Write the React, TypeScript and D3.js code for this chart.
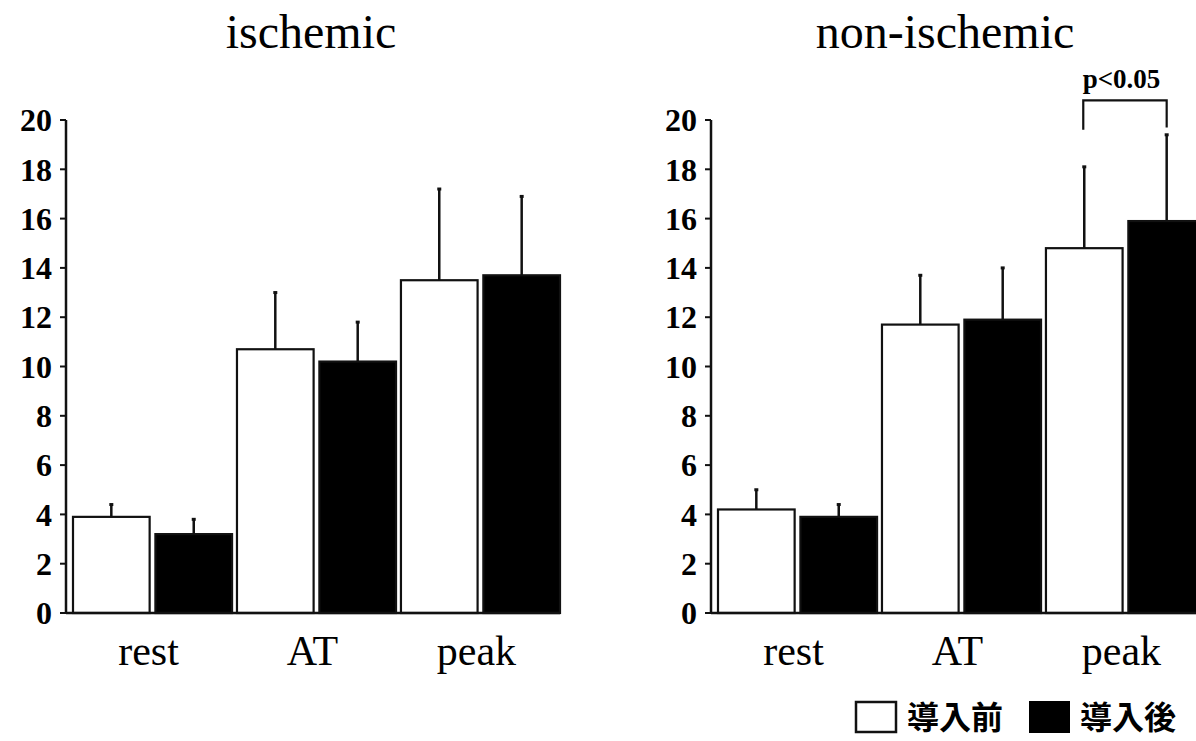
import * as d3 from 'd3';

const categories = ['rest', 'AT', 'peak'];
const seriesNames = ['導入前', '導入後'];
const yTicks = [0, 2, 4, 6, 8, 10, 12, 14, 16, 18, 20];

// ischemic
const ischBefore = [3.9, 10.7, 13.5];
const ischBeforeErr = [4.4, 13.0, 17.2];
const ischAfter = [3.2, 10.2, 13.7];
const ischAfterErr = [3.8, 11.8, 16.9];

// non-ischemic
const nonBefore = [4.2, 11.7, 14.8];
const nonBeforeErr = [5.0, 13.7, 18.1];
const nonAfter = [3.9, 11.9, 15.9];
const nonAfterErr = [4.4, 14.0, 19.4];

const W = 1196;
const H = 741;
const SERIF = '"Liberation Serif", "DejaVu Serif", serif';

const y = d3.scaleLinear().domain([0, 20]).range([613, 120]);

type PanelProps = {
  title: string;
  axisX: number;
  x0Range: [number, number];
  before: number[];
  beforeErr: number[];
  after: number[];
  afterErr: number[];
  titleX: number;
  sig?: boolean;
};

function Panel({ title, axisX, x0Range, before, beforeErr, after, afterErr, titleX, sig }: PanelProps) {
  const x0 = d3.scaleBand<string>().domain(categories).range(x0Range).paddingInner(0.03);
  const x1 = d3.scaleBand<string>().domain(seriesNames).range([0, x0.bandwidth()]).paddingInner(0.07);

  const rows = categories.flatMap((c, i) => [
    { c, s: seriesNames[0], v: before[i], e: beforeErr[i], fill: '#fff' },
    { c, s: seriesNames[1], v: after[i], e: afterErr[i], fill: '#000' },
  ]);

  const peakX = x0('peak')!;
  const bx1 = peakX + x1(seriesNames[0])! + x1.bandwidth() / 2;
  const bx2 = peakX + x1(seriesNames[1])! + x1.bandwidth() / 2;

  return (
    <g>
      <text x={titleX} y={48} textAnchor="middle" fontFamily={SERIF} fontSize={48}>{title}</text>

      {rows.map((d, i) => {
        const bx = x0(d.c)! + x1(d.s)!;
        const cx = bx + x1.bandwidth() / 2;
        return (
          <g key={i}>
            <line x1={cx} x2={cx} y1={y(d.v)} y2={y(d.e)} stroke="#111" strokeWidth={2.5} />
            <line x1={cx - 2} x2={cx + 2} y1={y(d.e)} y2={y(d.e)} stroke="#111" strokeWidth={3} />
            <rect x={bx} y={y(d.v)} width={x1.bandwidth()} height={y(0) - y(d.v)}
              fill={d.fill} stroke="#111" strokeWidth={2.2} />
          </g>
        );
      })}

      {/* axes */}
      <line x1={axisX} x2={axisX} y1={y(20)} y2={y(0)} stroke="#111" strokeWidth={2.5} />
      <line x1={axisX} x2={x0Range[1]} y1={y(0)} y2={y(0)} stroke="#111" strokeWidth={2.5} />
      {yTicks.map(t => (
        <g key={t}>
          <line x1={axisX - 6} x2={axisX} y1={y(t)} y2={y(t)} stroke="#111" strokeWidth={2} />
          <text x={axisX - 14} y={y(t)} dy="0.35em" textAnchor="end" fontFamily={SERIF}
            fontWeight="bold" fontSize={32}>{t}</text>
        </g>
      ))}
      {categories.map(c => (
        <text key={c} x={x0(c)! + x0.bandwidth() / 2 - 4} y={665} textAnchor="middle"
          fontFamily={SERIF} fontSize={42}>{c}</text>
      ))}

      {sig && (
        <g>
          <path d={`M${bx1 - 1},${y(19.6)}V${y(20.8)}H${bx2}V${y(19.7)}`} fill="none" stroke="#111" strokeWidth={2.2} />
          <text x={(bx1 + bx2) / 2 - 4} y={88} textAnchor="middle" fontFamily={SERIF}
            fontWeight="bold" fontSize={27}>p&lt;0.05</text>
        </g>
      )}
    </g>
  );
}

export default function App() {
  const legendFont = '"Noto Sans CJK JP", "Noto Sans CJK SC", sans-serif';
  return (
    <svg width={W} height={H} style={{ position: 'absolute', left: 0, top: 0, background: '#fff' }}>
      <rect width={W} height={H} fill="#fff" />
      <Panel title="ischemic" axisX={66} x0Range={[73, 560]} titleX={311}
        before={ischBefore} beforeErr={ischBeforeErr} after={ischAfter} afterErr={ischAfterErr} />
      <Panel title="non-ischemic" axisX={711} x0Range={[718, 1205]} titleX={945} sig
        before={nonBefore} beforeErr={nonBeforeErr} after={nonAfter} afterErr={nonAfterErr} />

      {/* legend */}
      <rect x={856} y={702} width={40} height={30} fill="#fff" stroke="#111" strokeWidth={2.5} />
      <text x={907} y={729} fontFamily={legendFont} fontWeight="bold" fontSize={32}>{seriesNames[0]}</text>
      <rect x={1029} y={701} width={41} height={32} fill="#000" />
      <text x={1080} y={729} fontFamily={legendFont} fontWeight="bold" fontSize={32}>{seriesNames[1]}</text>
    </svg>
  );
}
